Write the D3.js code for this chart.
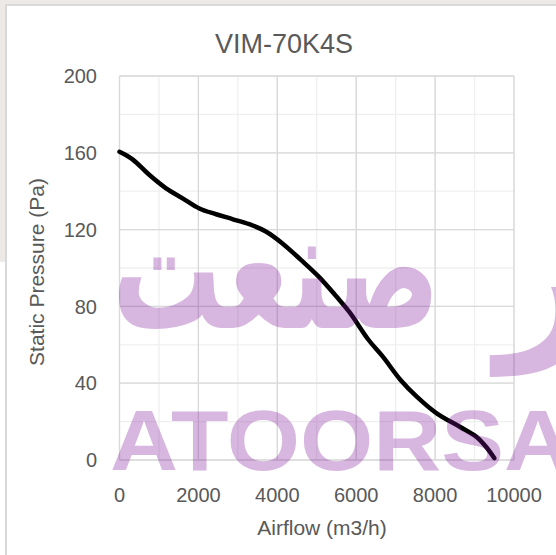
<!DOCTYPE html>
<html><head><meta charset="utf-8">
<script src="https://cdn.jsdelivr.net/npm/d3@7/dist/d3.min.js"></script>
<style>html,body{margin:0;padding:0;background:#fff;overflow:hidden}</style>
</head><body>
<script>
const title = "VIM-70K4S";
const xLabel = "Airflow (m3/h)";
const yLabel = "Static Pressure (Pa)";
const xTicks = [0, 2000, 4000, 6000, 8000, 10000];
const yTicks = [0, 40, 80, 120, 160, 200];
const xMinor = [0,1000,2000,3000,4000,5000,6000,7000,8000,9000,10000];
const yMinor = [0,20,40,60,80,100,120,140,160,180,200];
const airflow = [0, 330, 760, 1180, 1600, 2025, 2450, 2860, 3290, 3710, 4130, 4600, 5050, 5505, 5830, 6315, 6675, 7124, 7535, 8040, 8625, 9045, 9290, 9500];
const pressure = [160.5, 156.6, 148.4, 141.5, 136.3, 131, 128, 125.5, 122.8, 119, 112.8, 104.2, 95.5, 85, 77, 62.5, 53.8, 41.7, 33, 24.3, 17.3, 12.1, 6.9, 1];

const W = 556, H = 555;
const svg = d3.select("body").append("svg").attr("width", W).attr("height", H);
svg.append("rect").attr("width", W).attr("height", H).attr("fill", "#ffffff");
svg.append("rect").attr("x",0).attr("y",0).attr("width",W).attr("height",4).attr("fill","#ece9e6");
svg.append("rect").attr("x",0).attr("y",0).attr("width",5).attr("height",262).attr("fill","#ece9e6");
svg.append("rect").attr("x",5).attr("y",4).attr("width",W-5).attr("height",2).attr("fill","#d9d9d9");
svg.append("rect").attr("x",5).attr("y",4).attr("width",2).attr("height",H-4).attr("fill","#d9d9d9");

const x = d3.scaleLinear().domain([0, 10000]).range([119.5, 514]);
const y = d3.scaleLinear().domain([0, 200]).range([460, 76]);
const font = "'Liberation Sans', Arial, sans-serif";
const txt = "#595959";

svg.append("g").selectAll("line").data(xMinor).join("line")
  .attr("x1", d=>x(d)).attr("x2", d=>x(d)).attr("y1", y(0)).attr("y2", y(200))
  .attr("stroke", "#efefef").attr("stroke-width", 1.3);
svg.append("g").selectAll("line").data(yMinor).join("line")
  .attr("y1", d=>y(d)).attr("y2", d=>y(d)).attr("x1", x(0)).attr("x2", x(10000))
  .attr("stroke", "#efefef").attr("stroke-width", 1.3);
svg.append("g").selectAll("line").data(xTicks).join("line")
  .attr("x1", d=>x(d)).attr("x2", d=>x(d)).attr("y1", y(0)).attr("y2", y(200))
  .attr("stroke", "#d9d9d9").attr("stroke-width", 1.3);
svg.append("g").selectAll("line").data(yTicks).join("line")
  .attr("y1", d=>y(d)).attr("y2", d=>y(d)).attr("x1", x(0)).attr("x2", x(10000))
  .attr("stroke", "#d9d9d9").attr("stroke-width", 1.3);

const pts = airflow.map((a,i)=>[a, pressure[i]]);
svg.append("path").datum(pts)
  .attr("d", d3.line().x(d=>x(d[0])).y(d=>y(d[1])).curve(d3.curveCatmullRom))
  .attr("fill","none").attr("stroke","#000").attr("stroke-width",4.5)
  .attr("stroke-linecap","round").attr("stroke-linejoin","round");

// watermark
const wm = svg.append("g").attr("fill","rgb(125,18,152)").attr("opacity",0.3);
wm.append("text").attr("x",110).attr("y",470).attr("font-family",font).attr("font-weight","bold")
  .attr("font-size",86).attr("textLength",530).attr("lengthAdjust","spacingAndGlyphs").text("ATOORSAN");
const arFont = "'DejaVu Sans', 'Noto Sans', sans-serif";
const ar = wm.append("text").attr("x",112).attr("y",328).attr("text-anchor","start")
  .attr("font-family",arFont).attr("font-weight","bold")
  .attr("font-size",100).text("صنعت");
const bb = ar.node().getBBox();
const fs = 100 * 328 / bb.width;
ar.attr("font-size", fs * 1.55).attr("textLength", 328).attr("lengthAdjust","spacingAndGlyphs");
wm.append("text").attr("x",497).attr("y",334).attr("text-anchor","start")
  .attr("font-family",arFont).attr("font-weight","bold")
  .attr("font-size",fs*1.6).text("ر");

svg.append("g").selectAll("text").data(yTicks).join("text")
  .attr("x", 97).attr("y", d=>y(d)).attr("dy","0.36em").attr("text-anchor","end")
  .attr("font-family",font).attr("font-size",20).attr("fill",txt).text(d=>d);
svg.append("g").selectAll("text").data(xTicks).join("text")
  .attr("x", d=>x(d)).attr("y", 502).attr("text-anchor","middle")
  .attr("font-family",font).attr("font-size",20).attr("fill",txt).text(d=>d);

svg.append("text").attr("x",284).attr("y",53).attr("text-anchor","middle")
  .attr("font-family",font).attr("font-size",27).attr("fill",txt).text(title);
svg.append("text").attr("x",322).attr("y",535).attr("text-anchor","middle")
  .attr("font-family",font).attr("font-size",21).attr("fill",txt).text(xLabel);
svg.append("text").attr("transform","translate(44,272) rotate(-90)").attr("text-anchor","middle")
  .attr("font-family",font).attr("font-size",21).attr("fill",txt).text(yLabel);
</script>
</body></html>
